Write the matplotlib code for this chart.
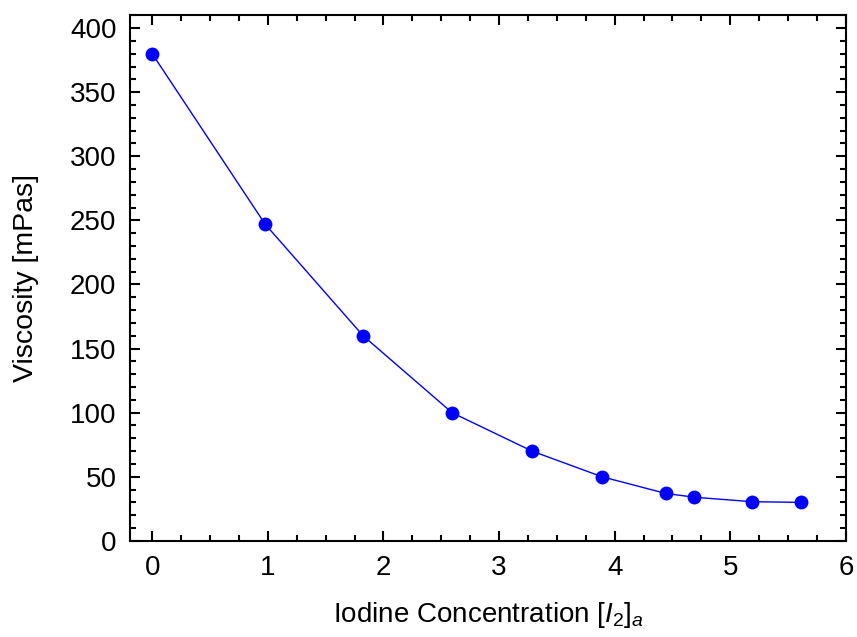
import matplotlib
matplotlib.use("Agg")
import matplotlib.pyplot as plt
from matplotlib.ticker import MultipleLocator

plt.rcParams['font.family'] = ['Liberation Sans', 'DejaVu Sans']
plt.rcParams['mathtext.fontset'] = 'custom'
plt.rcParams['mathtext.rm'] = 'Liberation Sans'
plt.rcParams['mathtext.it'] = 'Liberation Sans:italic'

# iodine concentration vs. viscosity
iodine = [0.0, 0.977, 1.824, 2.593, 3.285, 3.89, 4.44, 4.69, 5.19, 5.61]
viscosity = [380, 247, 160, 100, 70, 50, 37, 34, 30.5, 30]

fig, ax = plt.subplots(figsize=(8.57, 6.37), dpi=100)
fig.subplots_adjust(left=0.152, right=0.987, top=0.976, bottom=0.151)

ax.plot(iodine, viscosity, color='#0000ff', lw=1.0, marker='o',
        markersize=10, markeredgewidth=0)

ax.set_xlim(-0.19, 6)
ax.set_ylim(0, 410)
ax.xaxis.set_major_locator(MultipleLocator(1))
ax.xaxis.set_minor_locator(MultipleLocator(0.25))
ax.yaxis.set_major_locator(MultipleLocator(50))
ax.yaxis.set_minor_locator(MultipleLocator(10))
ax.tick_params(which='both', direction='in', top=True, right=True,
               width=1.5, labelsize=20, pad=10)
ax.tick_params(which='major', length=7.5)
ax.tick_params(which='minor', length=4)
for s in ax.spines.values():
    s.set_linewidth(1.5)

ax.set_xlabel(r'Iodine Concentration [$\mathit{I}_{2}$]$_{\mathit{a}}$',
              fontsize=20, labelpad=14)
ax.set_ylabel('Viscosity [mPas]', fontsize=20.5, labelpad=22)

fig.savefig('out.png', dpi=100)
